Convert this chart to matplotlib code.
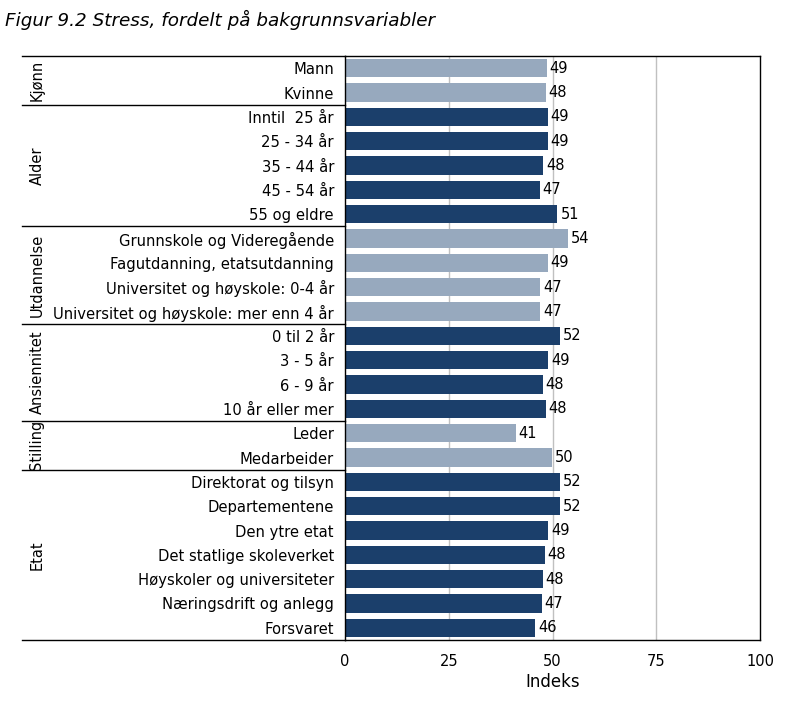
import matplotlib.pyplot as plt
from matplotlib.transforms import blended_transform_factory

groups = ["Kjønn", "Alder", "Utdannelse", "Ansiennitet", "Stilling", "Etat"]
group_sizes = [2, 5, 4, 4, 2, 7]
categories = ["Mann", "Kvinne",
              "Inntil  25 år", "25 - 34 år", "35 - 44 år", "45 - 54 år", "55 og eldre",
              "Grunnskole og Videregående", "Fagutdanning, etatsutdanning",
              "Universitet og høyskole: 0-4 år", "Universitet og høyskole: mer enn 4 år",
              "0 til 2 år", "3 - 5 år", "6 - 9 år", "10 år eller mer",
              "Leder", "Medarbeider",
              "Direktorat og tilsyn", "Departementene", "Den ytre etat",
              "Det statlige skoleverket", "Høyskoler og universiteter",
              "Næringsdrift og anlegg", "Forsvaret"]
values = [48.6, 48.4,
          48.8, 48.8, 47.8, 46.9, 51.2,
          53.8, 48.8, 47.1, 47.1,
          51.9, 49.0, 47.6, 48.4,
          41.1, 49.8,
          51.7, 51.7, 49.0, 48.1, 47.6, 47.4, 45.9]
xticks = [0, 25, 50, 75, 100]

light = "#97a9be"
dark = "#1b3f6b"

W, H = 807, 703
fig = plt.figure(figsize=(W / 100, H / 100), dpi=100)
L, R, T, B = 345, 760, 56, 640
ax = fig.add_axes([L / W, 1 - B / H, (R - L) / W, (B - T) / H])

colors = []
for i, n in enumerate(group_sizes):
    colors += [light if i % 2 == 0 else dark] * n

ypos = list(range(len(categories)))
ax.barh(ypos, values, height=0.74, color=colors, zorder=2)
for y, v in zip(ypos, values):
    ax.text(v + 0.7, y, f"{v:.0f}", va="center", ha="left", fontsize=10.5, color="black")

ax.set_xlim(0, 100)
ax.set_ylim(len(categories) - 0.5, -0.5)
ax.set_yticks(ypos)
ax.set_yticklabels(categories, fontsize=10.6)
ax.set_xticks(xticks)
ax.set_xticklabels([str(t) for t in xticks], fontsize=10.5)
ax.tick_params(axis="both", length=0)
ax.tick_params(axis="y", pad=8)
ax.tick_params(axis="x", pad=10)
ax.set_xlabel("Indeks", fontsize=12, labelpad=3)
for t in [25, 50, 75]:
    ax.axvline(t, color="#c0c0c0", lw=1, zorder=1)
for s in ax.spines.values():
    s.set_color("black")
    s.set_linewidth(1)

# table lines and group labels left of the axis
tr = blended_transform_factory(ax.transAxes, ax.transData)
xl = (22 - L) / (R - L)
xg = (37 - L) / (R - L)
edges = [-0.5]
for n in group_sizes:
    edges.append(edges[-1] + n)
for e in edges:
    ax.plot([xl, 0], [e, e], transform=tr, color="black", lw=1, clip_on=False)
for g, a, b in zip(groups, edges[:-1], edges[1:]):
    ax.text(xg, (a + b) / 2, g, transform=tr, rotation=90, ha="center", va="center", fontsize=10.5)

fig.text(5 / W, 1 - 20 / H, "Figur 9.2 Stress, fordelt på bakgrunnsvariabler",
         fontsize=13.2, style="italic", va="center", ha="left")

fig.savefig("out.png", dpi=100)
